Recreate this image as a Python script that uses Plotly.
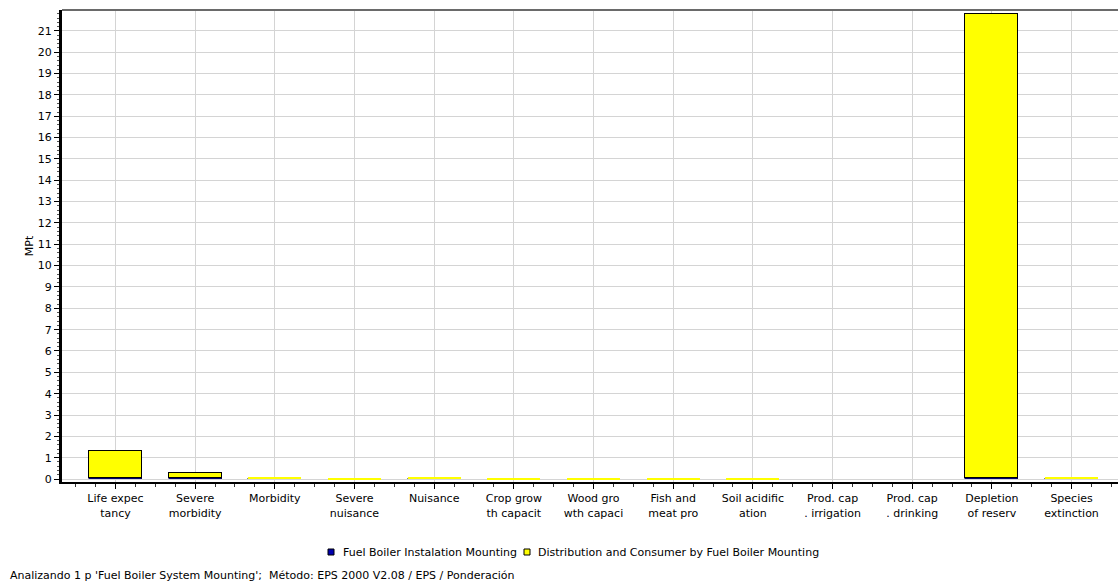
import plotly.graph_objects as go

# Impact categories (EPS 2000), as labelled on the axis
categories = [
    "Life expec<br>tancy", "Severe<br>morbidity", "Morbidity", "Severe<br>nuisance",
    "Nuisance", "Crop grow<br>th capacit", "Wood gro<br>wth capaci", "Fish and<br>meat pro",
    "Soil acidific<br>ation", "Prod. cap<br>. irrigation", "Prod. cap<br>. drinking",
    "Depletion<br>of reserv", "Species<br>extinction",
]

# Weighted results, MPt
installation = [0.06, 0.05, 0.03, 0.0, 0.04, 0.0, 0.0, 0.0, 0.0, 0.0, 0.0, 0.06, 0.04]
distribution = [1.25, 0.24, 0.05, 0.03, 0.03, 0.04, 0.03, 0.04, 0.04, 0.0, 0.0, 21.75, 0.05]

series_names = ["Fuel Boiler Instalation Mounting",
                "Distribution and Consumer by Fuel Boiler Mounting"]
series_colors = ["#0000b0", "#ffff00"]

footer = ("Analizando 1 p 'Fuel Boiler System Mounting';  "
          "Método: EPS 2000 V2.08 / EPS / Ponderación")

FONT = "DejaVu Sans"
FS = 11
W, H = 1118, 587
ML, MT, MB, MR = 62, 10, 105, 0
PW, PH = W - ML - MR, H - MT - MB


def px_x(px):
    return (px - ML) / PW


def px_y(py):
    return (H - MB - py) / PH


xpos = list(range(len(categories)))

fig = go.Figure()
fig.add_trace(go.Bar(
    x=xpos, y=installation, name=series_names[0], showlegend=False,
    marker=dict(color=series_colors[0],
                line=dict(color="#000030", width=[0.5 if v > 0 else 0 for v in installation])),
    width=0.665,
))
fig.add_trace(go.Bar(
    x=xpos, y=distribution, name=series_names[1], showlegend=False,
    marker=dict(color=series_colors[1],
                line=dict(color="#000000", width=[1 if v > 0.1 else 0 for v in distribution])),
    width=0.665,
))

fig.update_layout(
    width=W, height=H,
    margin=dict(l=ML, r=MR, t=MT, b=MB, pad=0),
    barmode="stack",
    plot_bgcolor="white", paper_bgcolor="white",
    font=dict(family=FONT, size=FS, color="#000000"),
    bargap=0,
)

fig.update_xaxes(
    range=[-0.671, 12.583],
    tickmode="array", tickvals=xpos, ticktext=categories,
    showgrid=True, gridcolor="#d4d4d4", gridwidth=1,
    showline=True, linecolor="#000000", linewidth=2,
    ticks="outside", ticklen=5, tickcolor="#000000", tickwidth=1,
    minor=dict(dtick=0.25, tick0=0, ticks="outside", ticklen=3, tickcolor="#333333",
               showgrid=False),
    zeroline=False, tickangle=0,
    tickfont=dict(family=FONT, size=FS),
)

fig.update_yaxes(
    range=[-0.14, 21.98],
    tickmode="linear", tick0=0, dtick=1,
    showgrid=True, gridcolor="#d4d4d4", gridwidth=1,
    showline=True, linecolor="#000000", linewidth=3,
    ticks="outside", ticklen=5, tickcolor="#000000", tickwidth=1,
    minor=dict(dtick=0.2, tick0=0, ticks="outside", ticklen=2, tickcolor="#555555",
               showgrid=False),
    zeroline=False,
    title=dict(text="MPt", standoff=2, font=dict(family=FONT, size=FS)),
    tickfont=dict(family=FONT, size=FS),
)

# top frame line of the plot area
fig.add_shape(type="line", xref="paper", yref="paper", x0=0, x1=1, y0=1, y1=1,
              line=dict(color="#6a6a6a", width=2))

# legend row: small bordered swatch followed by the series name
legend_slots = [(328, 341), (524, 536)]
legend_y = 552
for (sx, tx), name, col in zip(legend_slots, series_names, series_colors):
    fig.add_shape(type="rect", xref="paper", yref="paper",
                  x0=px_x(sx), x1=px_x(sx + 6), y0=px_y(legend_y + 3), y1=px_y(legend_y - 3),
                  fillcolor=col, line=dict(color="#000000", width=1))
    fig.add_annotation(text=name, xref="paper", yref="paper",
                       x=px_x(tx), y=px_y(legend_y), xanchor="left", yanchor="middle",
                       showarrow=False, font=dict(family=FONT, size=FS, color="#000000"))

fig.add_annotation(
    text=footer, xref="paper", yref="paper",
    x=px_x(8), y=px_y(575),
    xanchor="left", yanchor="middle", showarrow=False,
    font=dict(family=FONT, size=FS, color="#000000"),
)

fig.write_html("out.html")
